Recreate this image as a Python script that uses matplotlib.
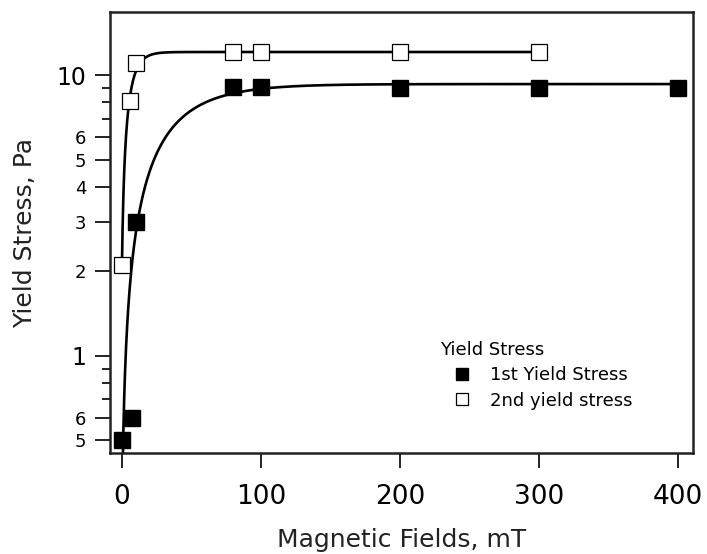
import matplotlib
matplotlib.use('Agg')
import matplotlib.pyplot as plt
import numpy as np

# measured yield stress vs. magnetic field
field_1st = [0, 7, 10, 80, 100, 200, 300, 400]
stress_1st = [0.50, 0.60, 3.0, 9.05, 9.05, 9.0, 9.0, 9.0]
field_2nd = [0, 6, 10, 80, 100, 200, 300]
stress_2nd = [2.1, 8.1, 11.1, 12.1, 12.1, 12.1, 12.1]

# exponential fit parameters: y = y0 - A * exp(-x / tau)
fit_1st = (9.3, 9.05, 31.0)
fit_2nd = (12.1, 10.0, 5.8)

ytick_major = [0.5, 0.6, 1, 2, 3, 4, 5, 6, 10]
ytick_labels = ['5', '6', '1', '2', '3', '4', '5', '6', '10']
ytick_minor = [0.7, 0.8, 0.9, 7, 8, 9]
xticks = [0, 100, 200, 300, 400]

fig = plt.figure(figsize=(7.07, 5.54), dpi=100)
ax = fig.add_axes([0.1556, 0.1823, 0.8244, 0.796])

for fx, fy, p in [(field_1st, stress_1st, fit_1st), (field_2nd, stress_2nd, fit_2nd)]:
    x = np.linspace(0, max(fx), 2000)
    y = p[0] - p[1] * np.exp(-x / p[2])
    y = np.where(y > 0, y, np.nan)
    ax.plot(x, y, color='black', lw=1.9, zorder=2)

ax.plot(field_1st, stress_1st, 's', ms=12, mfc='black', mec='black', mew=1,
        ls='none', label='1st Yield Stress', zorder=3)
ax.plot(field_2nd, stress_2nd, 's', ms=12, mfc='white', mec='black', mew=0.9,
        ls='none', label='2nd yield stress', zorder=3)

ax.set_yscale('log')
ax.set_xlim(-8.6, 411)
ax.set_ylim(0.45, 16.8)

ax.set_yticks(ytick_major)
ax.set_yticklabels(ytick_labels)
ax.set_yticks(ytick_minor, minor=True)
ax.yaxis.set_minor_formatter(matplotlib.ticker.NullFormatter())
for t, v in zip(ax.get_yticklabels(), ytick_major):
    t.set_fontsize(17 if v in (1, 10) else 13)
ax.set_xticks(xticks)
ax.tick_params(axis='x', labelsize=19)

ax.tick_params(which='major', direction='out', length=11, width=1.4, pad=6, color='#222222')
ax.tick_params(axis='x', which='major', pad=11)
ax.tick_params(which='minor', direction='out', length=5.5, width=1.4, color='#222222')
for s in ax.spines.values():
    s.set_linewidth(1.8)
    s.set_color('#222222')

ax.set_xlabel('Magnetic Fields, mT', fontsize=18, labelpad=13, color='#222222')
ax.set_ylabel('Yield Stress, Pa', fontsize=18, labelpad=14, color='#222222')

leg = ax.legend(title='Yield Stress', loc='upper left', bbox_to_anchor=(0.566, 0.255),
                frameon=False, alignment='left', fontsize=13, title_fontsize=13,
                markerscale=0.7, handlelength=2.4, handletextpad=0.4,
                labelspacing=0.42, borderpad=0, borderaxespad=0)

fig.savefig('out.png', dpi=100)
